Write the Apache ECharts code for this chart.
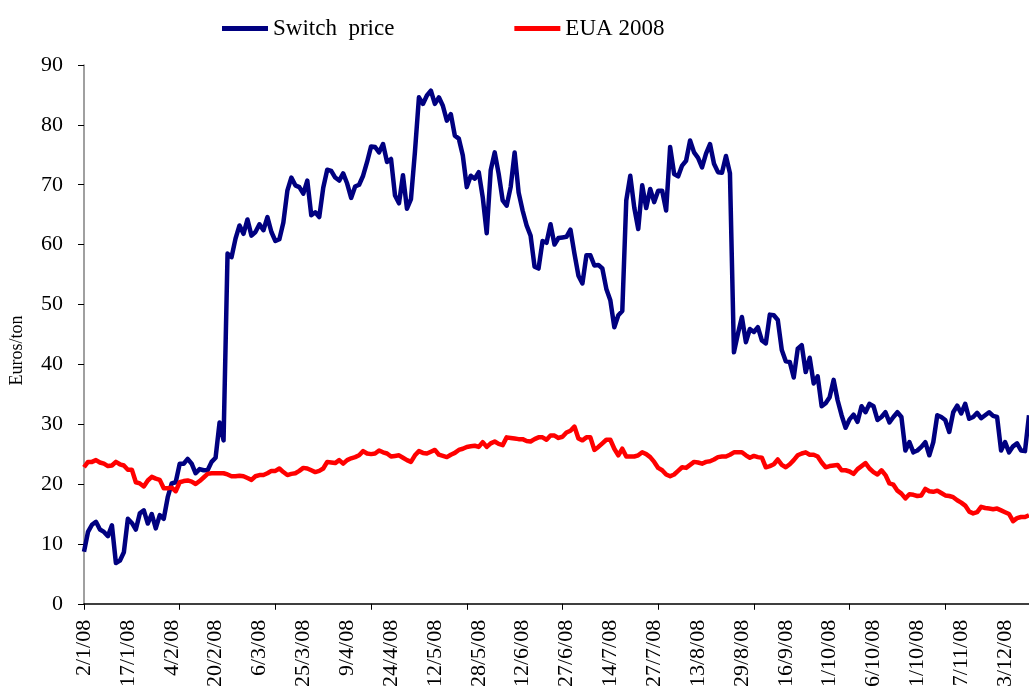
<!DOCTYPE html>
<html>
<head>
<meta charset="utf-8">
<script src="https://cdn.jsdelivr.net/npm/echarts@6/dist/echarts.min.js"></script>
<style>
html,body{margin:0;padding:0;background:#fff;}
#chart{width:1029px;height:690px;}
</style>
</head>
<body>
<div id="chart"></div>
<script>
const tickLabels = ['2/1/08','17/1/08','4/2/08','20/2/08','6/3/08','25/3/08','9/4/08','24/4/08','12/5/08','28/5/08','12/6/08','27/6/08','14/7/08','27/7/08','13/8/08','29/8/08','16/9/08','1/10/08','6/10/08','1/10/08','7/11/08','3/12/08'];
const seriesNames = ['Switch  price', 'EUA 2008'];

const switchPrice = [
 8.7,12.0,13.2,13.7,12.4,12.0,11.3,13.1,6.8,7.2,
 8.6,14.2,13.5,12.4,15.1,15.6,13.4,15.0,12.6,14.8,
 14.2,17.8,20.1,20.3,23.4,23.4,24.2,23.4,21.8,22.5,
 22.3,22.3,23.7,24.4,30.3,27.3,58.5,57.9,61.0,63.2,
 61.8,64.2,61.5,62.1,63.4,62.4,64.6,62.1,60.6,60.9,
 63.7,69.0,71.2,69.9,69.6,68.5,70.7,64.9,65.4,64.6,
 69.5,72.5,72.3,71.2,70.7,71.9,70.2,67.8,69.7,70.0,
 71.5,73.8,76.4,76.3,75.4,76.8,73.8,74.3,68.2,66.9,
 71.6,66.0,67.6,75.5,84.6,83.5,84.9,85.7,83.5,84.6,
 83.2,80.7,81.8,78.2,77.7,74.9,69.6,71.5,71.0,72.1,
 67.9,61.9,72.4,75.4,71.8,67.4,66.5,69.6,75.4,68.7,
 65.7,63.2,61.5,56.3,56.0,60.6,60.3,63.4,60.0,61.1,
 61.2,61.3,62.5,58.5,54.8,53.5,58.2,58.2,56.5,56.6,
 56.0,52.6,50.7,46.2,48.2,48.9,67.4,71.5,66.2,62.6,
 69.9,66.1,69.3,67.1,69.0,69.0,65.7,76.3,71.8,71.4,
 73.2,74.0,77.4,75.4,74.5,72.9,75.2,76.8,73.5,72.1,
 72.0,74.8,71.9,42.0,45.1,47.9,43.7,45.9,45.4,46.2,
 44.0,43.5,48.3,48.2,47.4,42.4,40.5,40.4,37.8,42.6,
 43.2,38.7,41.1,36.8,38.0,33.0,33.5,34.5,37.4,34.0,
 31.5,29.4,30.8,31.6,30.4,33.0,32.0,33.4,33.0,30.7,
 31.2,32.0,30.3,31.2,32.0,31.2,25.6,27.0,25.3,25.6,
 26.2,27.0,24.8,27.0,31.5,31.2,30.7,28.7,32.0,33.1,
 31.8,33.4,30.9,31.2,31.9,31.0,31.5,32.0,31.4,31.2,
 25.6,27.0,25.3,26.3,26.8,25.6,25.5,31.5
];

const eua2008 = [
 22.8,23.7,23.7,24.0,23.6,23.4,23.0,23.1,23.7,23.3,
 23.1,22.4,22.4,20.3,20.1,19.6,20.6,21.2,20.9,20.7,
 19.3,19.3,19.4,18.8,20.3,20.5,20.6,20.4,20.0,20.5,
 21.1,21.7,21.8,21.8,21.8,21.8,21.6,21.3,21.3,21.4,
 21.3,21.0,20.7,21.3,21.5,21.5,21.8,22.2,22.2,22.6,
 22.0,21.5,21.7,21.8,22.2,22.7,22.6,22.3,22.0,22.2,
 22.6,23.7,23.6,23.5,24.0,23.4,24.0,24.3,24.5,24.8,
 25.5,25.1,25.0,25.1,25.6,25.3,25.1,24.6,24.7,24.8,
 24.4,24.0,23.7,24.8,25.5,25.2,25.1,25.4,25.7,24.9,
 24.7,24.5,24.9,25.2,25.7,25.9,26.2,26.3,26.4,26.2,
 27.0,26.2,26.8,27.1,26.7,26.5,27.8,27.7,27.6,27.5,
 27.5,27.2,27.1,27.5,27.8,27.8,27.4,28.1,28.1,27.7,
 27.9,28.6,28.9,29.6,27.6,27.3,27.8,27.8,25.7,26.2,
 26.8,27.4,27.4,25.9,24.8,25.9,24.6,24.6,24.6,24.8,
 25.3,25.0,24.5,23.7,22.7,22.3,21.6,21.3,21.6,22.2,
 22.8,22.7,23.2,23.7,23.6,23.4,23.7,23.8,24.1,24.5,
 24.6,24.6,24.9,25.3,25.3,25.3,24.8,24.4,24.7,24.5,
 24.4,22.8,23.0,23.3,24.1,23.2,22.8,23.3,24.0,24.8,
 25.1,25.3,24.9,24.9,24.6,23.6,22.8,23.0,23.1,23.2,
 22.3,22.3,22.1,21.7,22.5,23.0,23.5,22.6,22.0,21.6,
 22.3,21.5,20.1,19.9,18.9,18.4,17.6,18.3,18.2,18.0,
 18.1,19.2,18.8,18.7,18.9,18.5,18.1,18.0,17.8,17.3,
 16.9,16.4,15.4,15.1,15.3,16.2,16.0,15.9,15.8,15.9,
 15.6,15.3,15.0,13.8,14.3,14.5,14.5,14.8
];

const yTicks = [0, 10, 20, 30, 40, 50, 60, 70, 80, 90];
const labelEvery = 11;
const tickEvery = 24;

const categories = switchPrice.map(function (v, i) {
  return (i % labelEvery === 0 && tickLabels[i / labelEvery] !== undefined) ? tickLabels[i / labelEvery] : '';
});

const FONT = '"Liberation Serif", "Times New Roman", serif';
const chart = echarts.init(document.getElementById('chart'), null, {renderer: 'canvas'});
chart.setOption({
  animation: false,
  backgroundColor: '#ffffff',
  legend: {
    left: 222,
    top: 17,
    padding: 0,
    itemWidth: 46,
    itemHeight: 5,
    itemGap: 120,
    icon: 'rect',
    textStyle: {fontFamily: FONT, fontSize: 23, color: '#000'},
    data: seriesNames
  },
  grid: {left: 84, right: 0, top: 65, bottom: 86, containLabel: false},
  xAxis: {
    type: 'category',
    data: categories,
    boundaryGap: false,
    axisLine: {lineStyle: {color: '#000', width: 1.5}},
    axisTick: {show: true, interval: tickEvery - 1, length: 6, lineStyle: {color: '#000'}},
    axisLabel: {
      interval: labelEvery - 1,
      rotate: 90,
      margin: 16,
      fontFamily: FONT,
      fontSize: 22,
      color: '#000'
    },
    splitLine: {show: false}
  },
  yAxis: {
    type: 'value',
    min: yTicks[0],
    max: yTicks[yTicks.length - 1],
    interval: 10,
    name: 'Euros/ton',
    nameLocation: 'middle',
    nameGap: 58,
    nameRotate: 90,
    nameTextStyle: {fontFamily: FONT, fontSize: 18, color: '#000', padding: [0, 32, 0, 0]},
    axisLine: {show: true, lineStyle: {color: '#808080', width: 1.5}},
    axisTick: {show: true, length: 6, lineStyle: {color: '#000'}},
    axisLabel: {margin: 21, fontFamily: FONT, fontSize: 22, color: '#000'},
    splitLine: {show: false}
  },
  series: [
    {
      name: seriesNames[0],
      type: 'line',
      data: switchPrice,
      showSymbol: false,
      symbol: 'none',
      itemStyle: {color: '#000080'},
      lineStyle: {color: '#000080', width: 4.5, join: 'round'}
    },
    {
      name: seriesNames[1],
      type: 'line',
      data: eua2008,
      showSymbol: false,
      symbol: 'none',
      itemStyle: {color: '#ff0000'},
      lineStyle: {color: '#ff0000', width: 4.5, join: 'round'}
    }
  ]
});
</script>
</body>
</html>
